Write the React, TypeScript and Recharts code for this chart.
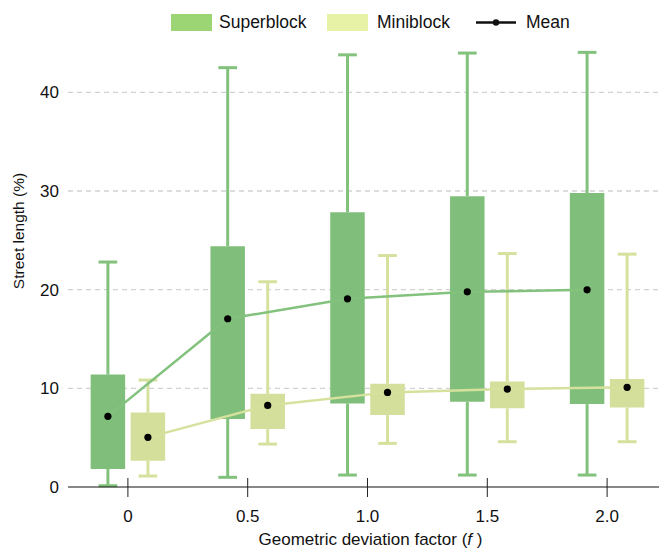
import React from 'react';
import {
  ComposedChart,
  XAxis,
  YAxis,
  CartesianGrid,
  ReferenceArea,
  ReferenceLine,
  Scatter,
  Label,
} from 'recharts';

// ---- data ----
const categories = [0, 0.5, 1.0, 1.5, 2.0];
const tickLabels = ['0', '0.5', '1.0', '1.5', '2.0'];
const yTicks = [0, 10, 20, 30, 40];
const gridValues = [10, 20, 30, 40];

const superMin = [0.13, 0.98, 1.21, 1.21, 1.21];
const superQ1 = [1.82, 6.89, 8.47, 8.64, 8.4];
const superQ3 = [11.4, 24.4, 27.85, 29.47, 29.8];
const superMax = [22.8, 42.5, 43.8, 43.98, 44.05];
const superMean = [7.16, 17.05, 19.07, 19.78, 19.98];

const miniMin = [1.11, 4.35, 4.42, 4.59, 4.59];
const miniQ1 = [2.67, 5.87, 7.29, 7.97, 8.07];
const miniQ3 = [7.56, 9.45, 10.46, 10.7, 10.94];
const miniMax = [10.84, 20.8, 23.46, 23.66, 23.6];
const miniMean = [5.03, 8.27, 9.59, 9.92, 10.1];

const legendLabels = ['Superblock', 'Miniblock', 'Mean'];
const xTitle = 'Geometric deviation factor';
const yTitle = 'Street length (%)';

// ---- styles ----
const FONT = '"Liberation Sans", Arial, Helvetica, sans-serif';
const SUPER_BOX = '#80BF7B';
const SUPER_LINE = '#82C27D';
const MINI_BOX = '#D3DF9B';
const MINI_LINE = '#D6E19E';
const SUPER_LEGEND = '#9CD674';
const MINI_LEGEND = '#E8F2A6';
const OFFSET = 0.0835; // half-distance between paired boxes (x units)
const HALF_BOX = 0.072;
const HALF_CAP = 0.039;

type Series = {
  min: number[];
  q1: number[];
  q3: number[];
  max: number[];
  mean: number[];
  shift: number;
  box: string;
  line: string;
  key: string;
};

const seriesList: Series[] = [
  { min: superMin, q1: superQ1, q3: superQ3, max: superMax, mean: superMean, shift: -OFFSET, box: SUPER_BOX, line: SUPER_LINE, key: 's' },
  { min: miniMin, q1: miniQ1, q3: miniQ3, max: miniMax, mean: miniMean, shift: OFFSET, box: MINI_BOX, line: MINI_LINE, key: 'm' },
];

const XTick = (props: any) => {
  const { x, y, payload } = props;
  const idx = categories.indexOf(payload.value);
  return (
    <g>
      <line x1={x} x2={x} y1={y - 9} y2={y + 10} stroke="#222" strokeWidth={1} />
      <text x={x} y={y + 35} textAnchor="middle" fontSize={17} fill="#111" fontFamily={FONT}>
        {idx >= 0 ? tickLabels[idx] : payload.value}
      </text>
    </g>
  );
};

const XTitle = (props: any) => {
  const vb = props.viewBox || {};
  return (
    <text x={vb.x + vb.width / 2 + 3} y={vb.y + 58} textAnchor="middle" fontSize={17} fill="#111" fontFamily={FONT}>
      {xTitle} (<tspan fontStyle="italic">f</tspan> )
    </text>
  );
};

const YTitle = (props: any) => {
  const vb = props.viewBox || {};
  const cx = 10.5;
  const cy = vb.y + vb.height / 2 - 34;
  return (
    <text
      x={cx}
      y={cy}
      transform={`rotate(-90 ${cx} ${cy})`}
      textAnchor="middle"
      dominantBaseline="central"
      fontSize={15.5}
      fill="#111"
      fontFamily={FONT}
    >
      {yTitle}
    </text>
  );
};

const Dot = (p: any) => <circle cx={p.cx} cy={p.cy} r={3.6} fill="#000" />;

export default function App() {
  const boxes: any[] = [];
  const whiskers: any[] = [];
  seriesList.forEach((s) => {
    categories.forEach((c, i) => {
      const xc = c + s.shift;
      boxes.push(
        <ReferenceArea
          key={`box-${s.key}-${i}`}
          x1={xc - HALF_BOX}
          x2={xc + HALF_BOX}
          y1={s.q1[i]}
          y2={s.q3[i]}
          fill={s.box}
          fillOpacity={1}
          stroke="none"
          ifOverflow="visible"
        />
      );
      whiskers.push(
        <ReferenceLine key={`wl-${s.key}-${i}`} segment={[{ x: xc, y: s.min[i] }, { x: xc, y: s.q1[i] }]} stroke={s.line} strokeWidth={3} ifOverflow="visible" />,
        <ReferenceLine key={`wh-${s.key}-${i}`} segment={[{ x: xc, y: s.q3[i] }, { x: xc, y: s.max[i] }]} stroke={s.line} strokeWidth={3} ifOverflow="visible" />,
        <ReferenceLine key={`cl-${s.key}-${i}`} segment={[{ x: xc - HALF_CAP, y: s.min[i] }, { x: xc + HALF_CAP, y: s.min[i] }]} stroke={s.line} strokeWidth={3} ifOverflow="visible" />,
        <ReferenceLine key={`ch-${s.key}-${i}`} segment={[{ x: xc - HALF_CAP, y: s.max[i] }, { x: xc + HALF_CAP, y: s.max[i] }]} stroke={s.line} strokeWidth={3} ifOverflow="visible" />
      );
    });
  });

  const meanData = seriesList.map((s) =>
    categories.map((c, i) => ({ x: c + s.shift, y: s.mean[i] }))
  );

  const legendColors = [SUPER_LEGEND, MINI_LEGEND];
  const legendLefts = [163, 319, 468];

  return (
    <div style={{ position: 'relative', width: 659, height: 541, fontFamily: FONT }}>
      <div style={{ position: 'absolute', top: 0, left: 0, width: 659, height: 34 }}>
        {legendLabels.map((name, i) => (
          <div
            key={name}
            style={{
              position: 'absolute',
              left: legendLefts[i],
              top: 6,
              height: 17,
              display: 'flex',
              alignItems: 'center',
              fontSize: 17.5,
              color: '#111',
              whiteSpace: 'nowrap',
            }}
          >
            {i < 2 ? (
              <span style={{ display: 'inline-block', width: 41, height: 17, background: legendColors[i] }} />
            ) : (
              <svg width={40} height={17}>
                <line x1={0} x2={40} y1={8.5} y2={8.5} stroke="#111" strokeWidth={2.5} />
                <circle cx={20} cy={8.5} r={3.2} fill="#111" />
              </svg>
            )}
            <span style={{ marginLeft: i === 0 ? 7 : i === 1 ? 9 : 10 }}>{name}</span>
          </div>
        ))}
      </div>
      <ComposedChart width={659} height={541} margin={{ top: 35, right: 0, bottom: 0, left: 0 }}>
        <CartesianGrid
          horizontal
          vertical={false}
          horizontalValues={gridValues}
          stroke="#d2d2d2"
          strokeDasharray="5 4"
          strokeWidth={1.3}
        />
        <XAxis
          dataKey="x"
          type="number"
          domain={[-0.25, 2.25]}
          ticks={categories}
          allowDataOverflow
          height={62}
          axisLine={{ stroke: '#111', strokeWidth: 1.2 }}
          tickLine={false}
          tickSize={0}
          tickMargin={0}
          tick={<XTick />}
          interval={0}
        >
          <Label content={<XTitle />} />
        </XAxis>
        <YAxis
          dataKey="y"
          type="number"
          domain={[0, 45]}
          ticks={yTicks}
          allowDataOverflow
          width={60}
          axisLine={false}
          tickLine={false}
          tickSize={0}
          tickMargin={9}
          tick={{ fontSize: 17, fill: '#111', fontFamily: FONT }}
        >
          <Label content={<YTitle />} />
        </YAxis>
        {boxes}
        {whiskers}
        <Scatter
          data={meanData[0]}
          line={{ stroke: SUPER_LINE, strokeWidth: 2.5 }}
          shape={<Dot />}
          isAnimationActive={false}
        />
        <Scatter
          data={meanData[1]}
          line={{ stroke: MINI_LINE, strokeWidth: 2.5 }}
          shape={<Dot />}
          isAnimationActive={false}
        />
      </ComposedChart>
    </div>
  );
}
